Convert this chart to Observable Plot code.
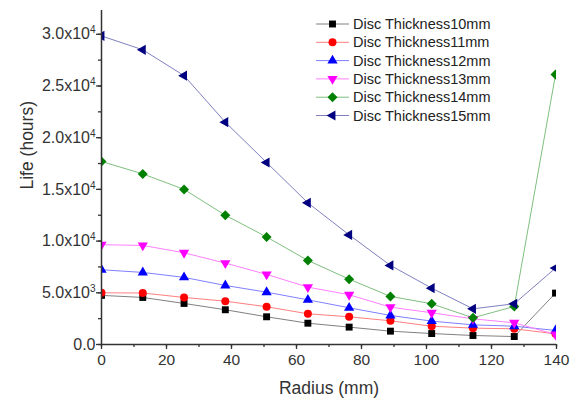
<!DOCTYPE html>
<html>
<head>
<meta charset="utf-8">
<script src="https://cdn.jsdelivr.net/npm/d3@7"></script>
<script src="https://cdn.jsdelivr.net/npm/@observablehq/plot@0.6"></script>
<style>
  html, body { margin: 0; padding: 0; background: #fff; }
  #chart { position: relative; width: 577px; height: 401px; }
</style>
</head>
<body>
<div id="chart"></div>
<script>
// ---- Data ----
const radius = [0, 12.7, 25.4, 38.1, 50.8, 63.5, 76.2, 88.9, 101.6, 114.3, 127, 139.7];
const seriesNames = ["Disc Thickness10mm", "Disc Thickness11mm", "Disc Thickness12mm",
                     "Disc Thickness13mm", "Disc Thickness14mm", "Disc Thickness15mm"];
const t10 = [4750, 4550, 3970, 3360, 2680, 2060, 1680, 1290, 1060, 870, 770, 4970];
const t11 = [5000, 4980, 4550, 4190, 3650, 2970, 2680, 2290, 1770, 1580, 1520, 1030];
const t12 = [7230, 6970, 6490, 5710, 5060, 4320, 3550, 2810, 2260, 1900, 1770, 1360];
const t13 = [9650, 9580, 8870, 7870, 6780, 5550, 4810, 3610, 3070, 2480, 2100, 970];
const t14 = [17700, 16500, 15000, 12500, 10400, 8130, 6320, 4650, 3940, 2580, 3680, 26100];
const t15 = [29840, 28500, 26000, 21500, 17600, 13700, 10600, 7650, 5450, 3450, 3940, 7390];
const xTicks = [0, 20, 40, 60, 80, 100, 120, 140];
const yTicks = [0, 5000, 10000, 15000, 20000, 25000, 30000];

// ---- Styles ----
const styles = [
  {values: t10, line: "#808080", fill: "#000000", symbol: "square",   r: 3.9, rotate: 0},
  {values: t11, line: "#ff7f7f", fill: "#ff0000", symbol: "circle",   r: 4.0, rotate: 0},
  {values: t12, line: "#7f7fff", fill: "#0000ff", symbol: "triangle", r: 3.8, rotate: 0},
  {values: t13, line: "#ff7fff", fill: "#ff00ff", symbol: "triangle", r: 3.8, rotate: 180},
  {values: t14, line: "#7fbf7f", fill: "#008000", symbol: "diamond2", r: 4.5, rotate: 0},
  {values: t15, line: "#7f7fbf", fill: "#000080", symbol: "triangle", r: 3.8, rotate: -90}
];

const FONT = "'Liberation Sans', Arial, sans-serif";
const INK = "#333";

function fmtY(d) {
  if (d === 0) return "0.0";
  const e = Math.floor(Math.log10(d));
  return (d / Math.pow(10, e)).toFixed(1) + "x10^" + e;
}

const marks = [];
// minor ticks
marks.push(Plot.axisX({ticks: d3.range(0, 141, 10), tickSize: 3, tickFormat: () => "", label: null, strokeWidth: 1.3}));
marks.push(Plot.axisY({ticks: d3.range(0, 32001, 2500), tickSize: 3, tickFormat: () => "", label: null, strokeWidth: 1.3}));
// major ticks with labels
marks.push(Plot.axisX({ticks: xTicks, tickSize: 5, tickPadding: 4, fontSize: 15.5, label: null, strokeWidth: 1.3}));
marks.push(Plot.axisY({ticks: yTicks, tickSize: 5, tickPadding: 1, fontSize: 16, tickFormat: fmtY, label: null, strokeWidth: 1.3}));
// titles
marks.push(Plot.text(["Radius (mm)"], {text: d => d, frameAnchor: "bottom", lineAnchor: "bottom", dy: 49, fontSize: 17.5, fill: INK}));
marks.push(Plot.text(["Life (hours)"], {text: d => d, frameAnchor: "left", lineAnchor: "top", rotate: -90, dx: -81, dy: 12, fontSize: 17.5, fill: INK}));
// series
for (const s of styles) {
  marks.push(Plot.line(s.values, {x: (d, i) => radius[i], y: d => d, stroke: s.line, strokeWidth: 1, clip: "frame"}));
}
for (const s of styles) {
  marks.push(Plot.dot(s.values, {x: (d, i) => radius[i], y: d => d, symbol: s.symbol, fill: s.fill, stroke: "none", r: s.r, rotate: s.rotate, clip: "frame"}));
}
// axis lines on top
marks.push(Plot.ruleX([0], {stroke: INK, strokeWidth: 1.5}));
marks.push(Plot.ruleY([0], {stroke: INK, strokeWidth: 1.5}));

const plot = Plot.plot({
  width: 577,
  height: 401,
  marginLeft: 101,
  marginRight: 21,
  marginTop: 10,
  marginBottom: 57,
  style: {fontFamily: FONT, color: INK, background: "#fff"},
  x: {domain: [0, 140]},
  y: {domain: [0, 32300]},
  marks
});

document.getElementById("chart").appendChild(plot);

// superscript exponents on y tick labels
d3.select(plot).selectAll('g[aria-label="y-axis tick label"] text').each(function () {
  const t = this.textContent;
  if (t.includes("^")) {
    const [base, exp] = t.split("^");
    const sel = d3.select(this);
    sel.text(base);
    sel.append("tspan").attr("font-size", 10).attr("dy", "-0.6em").text(exp);
  }
});

// legend inside the plot area
const svg = d3.select(plot);
const leg = svg.append("g").attr("font-family", FONT).attr("font-size", 14.5).attr("text-anchor", "start");
const symMap = {square: d3.symbolSquare, circle: d3.symbolCircle, triangle: d3.symbolTriangle, diamond2: d3.symbolDiamond2};
styles.forEach((s, i) => {
  const cy = 24 + i * 18.3;
  const g = leg.append("g");
  g.append("line").attr("x1", 316).attr("x2", 349).attr("y1", cy).attr("y2", cy)
    .attr("stroke", s.line).attr("stroke-width", 1);
  g.append("path")
    .attr("d", d3.symbol(symMap[s.symbol], Math.PI * s.r * s.r)())
    .attr("transform", `translate(332.5,${cy}) rotate(${s.rotate})`)
    .attr("fill", s.fill);
  g.append("text").attr("x", 353).attr("y", cy + 5).attr("fill", "#222")
    .style("text-anchor", "start").text(seriesNames[i]);
});
</script>
</body>
</html>
